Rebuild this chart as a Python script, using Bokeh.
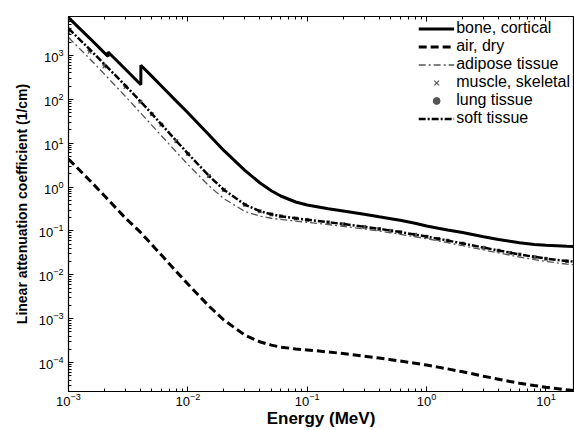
from bokeh.plotting import figure
from bokeh.models import LogAxis, LogTicker, Legend, LegendItem, Range1d
from bokeh.embed import file_html
from bokeh.resources import INLINE

# ---- data (linear attenuation coefficient, 1/cm) ----
energy = [1e-3, 1.5e-3, 2e-3, 3e-3, 4e-3, 5e-3, 6e-3, 8e-3, 1e-2, 1.5e-2, 2e-2, 3e-2,
          4e-2, 5e-2, 6e-2, 8e-2, 0.1, 0.15, 0.2, 0.3, 0.4, 0.5, 0.6, 0.8, 1.0, 1.25,
          1.5, 2.0, 3.0, 4.0, 5.0, 6.0, 8.0, 10.0, 15.0, 20.0]

bone_energy = [1e-3, 1.5e-3, 2e-3, 2.1455e-3, 2.1455e-3, 3e-3, 4.0381e-3, 4.0381e-3,
               5e-3, 6e-3, 8e-3, 1e-2, 1.5e-2, 2e-2, 3e-2, 4e-2, 5e-2, 6e-2, 8e-2,
               0.1, 0.15, 0.2, 0.3, 0.4, 0.5, 0.6, 0.8, 1.0, 1.25, 1.5, 2.0, 3.0,
               4.0, 5.0, 6.0, 8.0, 10.0, 15.0, 20.0]
bone_cortical = [7260, 2486, 1144, 949, 1196, 484, 214, 595, 332, 201, 90.9, 49.2,
                 15.5, 6.83, 2.40, 1.254, 0.825, 0.626, 0.457, 0.392, 0.320, 0.285,
                 0.240, 0.210, 0.190, 0.175, 0.150, 0.130, 0.115, 0.105, 0.092,
                 0.074, 0.064, 0.058, 0.054, 0.049, 0.047, 0.045, 0.044]

air_dry = [4.35, 1.435, 0.636, 0.196, 0.0938, 0.0485, 0.0282, 0.01195, 0.00617,
           0.001945, 0.000937, 0.000426, 0.000299, 0.000251, 0.000226, 0.000205,
           0.000195, 0.000175, 0.000161, 0.000141, 0.000127, 0.000117, 0.000109,
           9.7e-5, 8.8e-5, 7.9e-5, 7.2e-5, 6.2e-5, 4.9e-5, 4.2e-5, 3.7e-5,
           3.4e-5, 3.0e-5, 2.75e-5, 2.4e-5, 2.25e-5]

adipose_tissue = [2560, 850, 375, 116, 49.5, 25.5, 14.8, 6.30, 3.28, 1.07, 0.545,
                  0.280, 0.218, 0.195, 0.183, 0.168, 0.158, 0.140, 0.128, 0.111,
                  0.0995, 0.0908, 0.0840, 0.0738, 0.0664, 0.0594, 0.0540, 0.0463,
                  0.0370, 0.0316, 0.0280, 0.0255, 0.0222, 0.0202, 0.0175, 0.0163]

muscle_skeletal = [3330, 1200, 560, 190, 88.0, 45.5, 26.4, 11.1, 5.70, 1.78, 0.860,
                   0.396, 0.282, 0.238, 0.216, 0.192, 0.178, 0.157, 0.143, 0.124,
                   0.111, 0.101, 0.0935, 0.0822, 0.0739, 0.0660, 0.0601, 0.0516,
                   0.0415, 0.0356, 0.0317, 0.0290, 0.0254, 0.0232, 0.0203, 0.0190]

lung_tissue = [3900, 1330, 605, 198, 88.5, 46.0, 26.6, 11.2, 5.74, 1.79, 0.862,
               0.397, 0.282, 0.239, 0.216, 0.193, 0.179, 0.157, 0.143, 0.124, 0.111,
               0.101, 0.0936, 0.0822, 0.0739, 0.0661, 0.0601, 0.0517, 0.0415, 0.0357,
               0.0318, 0.0291, 0.0256, 0.0234, 0.0205, 0.0192]

soft_tissue = [4100, 1390, 630, 205, 90.0, 46.5, 26.9, 11.3, 5.80, 1.81, 0.870,
               0.400, 0.284, 0.240, 0.217, 0.194, 0.180, 0.158, 0.144, 0.125, 0.112,
               0.102, 0.0943, 0.0828, 0.0745, 0.0666, 0.0606, 0.0521, 0.0418, 0.0359,
               0.0320, 0.0292, 0.0257, 0.0235, 0.0206, 0.0193]

FONT = "Liberation Sans"

p = figure(width=574, height=430, x_axis_type="log", y_axis_type="log",
           x_range=Range1d(1e-3, 17), y_range=Range1d(2.2e-5, 7700),
           output_backend="svg", toolbar_location=None,
           min_border_left=68, min_border_right=1, min_border_top=16,
           min_border_bottom=38)

p.xgrid.visible = False
p.ygrid.visible = False
p.outline_line_color = "black"
p.outline_line_width = 1.2
p.background_fill_color = "white"
p.border_fill_color = "white"

p.xaxis[0].ticker = LogTicker(desired_num_ticks=6, num_minor_ticks=10)
p.yaxis[0].ticker = LogTicker(desired_num_ticks=10, num_minor_ticks=10)

for ax in (p.xaxis[0], p.yaxis[0]):
    ax.major_tick_in = 5
    ax.major_tick_out = 0
    ax.minor_tick_in = 3
    ax.minor_tick_out = 0
    ax.axis_line_color = "black"
    ax.major_label_text_font = FONT
    ax.major_label_text_font_size = "13px"
    ax.major_label_text_color = "black"
    ax.axis_label_text_font = FONT
    ax.axis_label_text_font_style = "bold"
    ax.axis_label_text_color = "black"

p.xaxis[0].axis_label = "Energy (MeV)"
p.xaxis[0].axis_label_text_font_size = "17px"
p.xaxis[0].axis_label_standoff = 0
p.xaxis[0].major_label_standoff = 1
p.yaxis[0].axis_label = "Linear attenuation coefficient (1/cm)"
p.yaxis[0].axis_label_text_font_size = "14px"
p.yaxis[0].axis_label_standoff = 6
p.yaxis[0].major_label_standoff = 5

top_ax = LogAxis(ticker=LogTicker(desired_num_ticks=6, num_minor_ticks=10),
                 major_tick_in=5, major_tick_out=0, minor_tick_in=3, minor_tick_out=0,
                 major_label_text_font_size="1px", major_label_text_alpha=0,
                 major_label_standoff=0, axis_line_color="black")
p.add_layout(top_ax, "above")

# ---- curves ----
r_bone = p.line(bone_energy, bone_cortical, line_color="black", line_width=3)
r_air = p.line(energy, air_dry, line_color="black", line_width=3, line_dash="8 4")
r_adi = p.line(energy, adipose_tissue, line_color="#555555", line_width=1.3,
               line_dash="7 3 2 3")
r_mus = p.scatter(energy, muscle_skeletal, marker="x", size=5, line_color="#555555",
                  line_width=1.2)
r_lung = p.scatter(energy, lung_tissue, marker="circle", size=3, fill_color="#555555",
                   line_color="#555555")
r_soft = p.line(energy, soft_tissue, line_color="black", line_width=2.5,
                line_dash="7 2 2 2")

legend = Legend(items=[
    LegendItem(label="bone, cortical", renderers=[r_bone]),
    LegendItem(label="air, dry", renderers=[r_air]),
    LegendItem(label="adipose tissue", renderers=[r_adi]),
    LegendItem(label="muscle, skeletal", renderers=[r_mus]),
    LegendItem(label="lung tissue", renderers=[r_lung]),
    LegendItem(label="soft tissue", renderers=[r_soft]),
], location="top_right", border_line_color=None, background_fill_alpha=0,
    label_text_font=FONT, label_text_font_size="16px", label_text_color="black",
    glyph_width=36, glyph_height=17, label_height=17, spacing=0, padding=4,
    margin=3, label_standoff=2)
p.add_layout(legend)

open("out.html", "w").write(file_html(p, INLINE))
